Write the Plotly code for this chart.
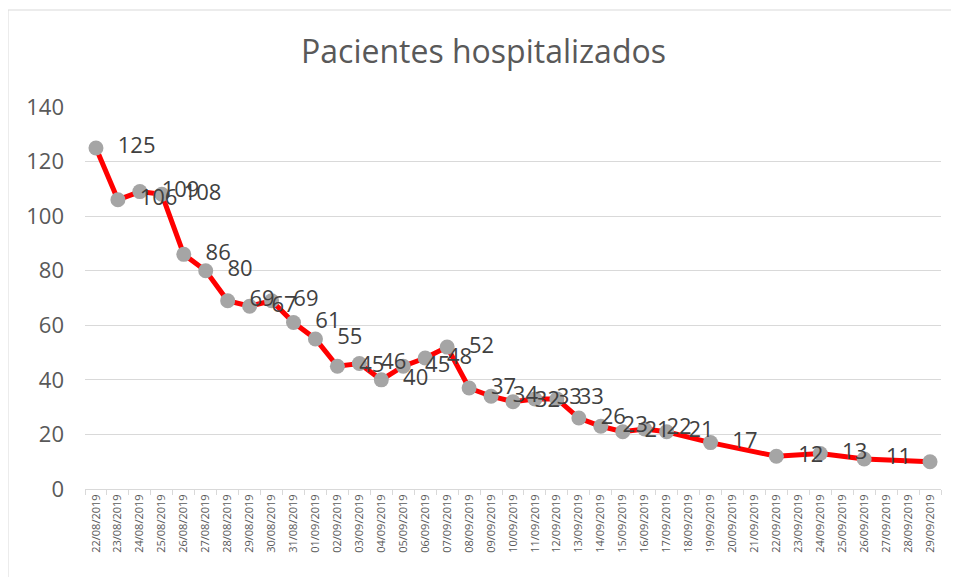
import plotly.graph_objects as go

dates = ["22/08/2019","23/08/2019","24/08/2019","25/08/2019","26/08/2019","27/08/2019","28/08/2019",
         "29/08/2019","30/08/2019","31/08/2019","01/09/2019","02/09/2019","03/09/2019","04/09/2019",
         "05/09/2019","06/09/2019","07/09/2019","08/09/2019","09/09/2019","10/09/2019","11/09/2019",
         "12/09/2019","13/09/2019","14/09/2019","15/09/2019","16/09/2019","17/09/2019","18/09/2019",
         "19/09/2019","20/09/2019","21/09/2019","22/09/2019","23/09/2019","24/09/2019","25/09/2019",
         "26/09/2019","27/09/2019","28/09/2019","29/09/2019"]
patients = [125,106,109,108,86,80,69,67,69,61,55,45,46,40,45,48,52,37,34,32,33,33,26,23,21,22,21,None,
            17,None,None,12,None,13,None,11,None,None,10]
y_ticks = [0,20,40,60,80,100,120,140]
title = "Pacientes hospitalizados"

labels = ["  " + str(v) if v is not None else "" for v in patients]

W, H = 951, 569
L, R, T, B = 77, 18, 99, 88
PW, PH = W - L - R, H - T - B

fig = go.Figure(go.Scatter(
    x=dates, y=patients, mode="lines+markers+text",
    connectgaps=True,
    line=dict(color="#FF0000", width=5),
    marker=dict(color="#A5A5A5", size=15),
    text=labels, textposition="middle right",
    textfont=dict(family="Open Sans", size=22, color="#404040"),
    cliponaxis=False, hoverinfo="skip"))

fig.update_layout(
    width=W, height=H,
    margin=dict(l=L, r=R, t=T, b=B),
    paper_bgcolor="white", plot_bgcolor="white",
    showlegend=False,
    title=dict(text=title, x=0.5, xanchor="center", y=1 - 44 / H, yanchor="middle",
               font=dict(family="Open Sans", size=32, color="#595959")),
    xaxis=dict(type="category", range=[-0.5, 38.5], tickangle=-90,
               tickfont=dict(family="Open Sans", size=11, color="#595959"),
               showgrid=False, showline=True, linecolor="#D9D9D9", linewidth=1,
               ticks="outside", tickson="boundaries", ticklen=5, tickcolor="#D9D9D9"),
    yaxis=dict(range=[0, 140], tickvals=y_ticks, showgrid=True, gridcolor="#D9D9D9",
               gridwidth=1, zeroline=False, showline=False,
               tickfont=dict(family="Open Sans", size=22, color="#595959"),
               ticklabelstandoff=20),
    shapes=[dict(type="rect", xref="paper", yref="paper",
                 x0=-L / PW, x1=1.2, y0=-0.5, y1=(H - B - 2) / PH,
                 line=dict(color="#D9D9D9", width=1), fillcolor="rgba(0,0,0,0)", layer="below")]
)

fig.write_html("out.html")
